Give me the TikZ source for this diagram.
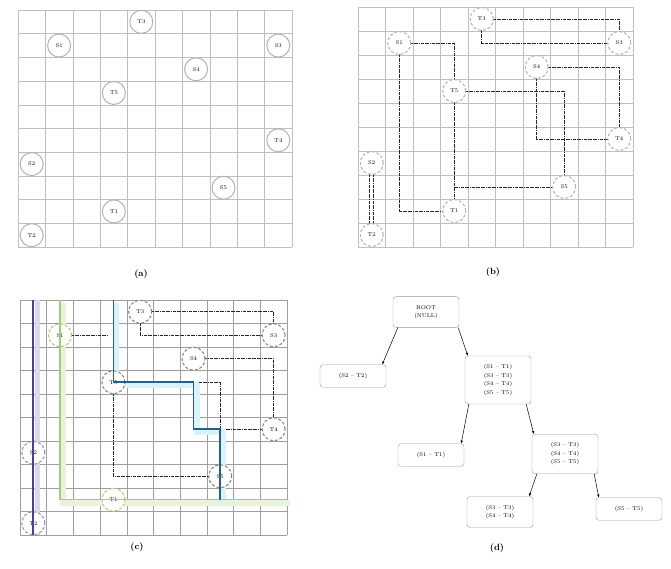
\documentclass[tikz,border=0pt]{standalone}
\usetikzlibrary{arrows.meta}
\definecolor{cutpurple}{RGB}{80,62,145}
\definecolor{cutgreen}{RGB}{160,205,120}
\definecolor{cutblue}{RGB}{40,95,135}
\colorlet{pinpurple}{cutpurple!60}
\tikzset{
  gridline/.style={gray!50, line width=0.5pt},
  pin/.style={circle, draw=gray!60, line width=1pt, fill=white, inner sep=0pt,
    minimum size=23pt, font=\fontsize{5.5}{6}\selectfont},
  route/.style={densely dashdotted, gray!30!black, line width=0.6pt},
  box/.style={draw=gray!80, rounded corners=3pt, align=center, minimum width=66pt,
    inner ysep=8.5pt, font=\fontsize{5.5}{8.5}\selectfont},
  link/.style={-{Latex[length=3pt,width=2.5pt]}, line width=0.5pt},
  panel/.style={font=\fontsize{9}{10}\selectfont\bfseries}
}
\begin{document}
\begin{tikzpicture}[x=1pt, y=-1pt]
  \useasboundingbox (0,0) rectangle (671,568);

  % (a) pins on the grid
  \begin{scope}[shift={(18pt,-10pt)}, x=27.4pt, y=-23.7pt]
    \foreach \i in {0,...,10} {
      \draw[gridline] (\i,0) -- (\i,10);
      \draw[gridline] (0,\i) -- (10,\i);
    }
    \foreach \n/\cx/\ry in {S1/1/1, T3/4/0, S3/9/1, S4/6/2, T5/3/3, T4/9/5,
                            S2/0/6, S5/7/7, T1/3/8, T2/0/9}
      \node[pin] (a-\n) at (\cx+0.5,\ry+0.5) {\n};
  \end{scope}

  % (b) candidate routes
  \begin{scope}[shift={(358pt,-7pt)}, x=27.5pt, y=-24pt]
    \foreach \i in {0,...,10} {
      \draw[gridline] (\i,0) -- (\i,10);
      \draw[gridline] (0,\i) -- (10,\i);
    }
    \foreach \n/\cx/\ry in {S1/1/1, T3/4/0, S3/9/1, S4/6/2, T5/3/3, T4/9/5,
                            S2/0/6, S5/7/7, T1/3/8, T2/0/9}
      \coordinate (b-\n) at (\cx+0.5,\ry+0.5);
    \draw[route] (b-T3) -| (b-S3);
    \draw[route] (b-T3) |- (b-S3);
    \draw[route] (b-S1) -| (b-T5);
    \draw[route] (b-T5) -- (b-T1);
    \draw[route] (b-S1) |- (b-T1);
    \draw[route] (b-S4) -| (b-T4);
    \draw[route] (b-S4) |- (b-T4);
    \draw[route] (b-T5) -| (b-S5);
    \draw[route] (b-T5) |- (b-S5);
    \draw[route] ([xshift=-2pt]b-S2) -- ([xshift=-2pt]b-T2);
    \draw[route] ([xshift=2pt]b-S2) -- ([xshift=2pt]b-T2);
    \foreach \n/\cx/\ry in {S1/1/1, T3/4/0, S3/9/1, S4/6/2, T5/3/3, T4/9/5,
                            S2/0/6, S5/7/7, T1/3/8, T2/0/9}
      \node[pin, densely dashed] (b-\n) at (\cx+0.5,\ry+0.5) {\n};
  \end{scope}

  % (c) cut lines
  \begin{scope}[shift={(20pt,-300pt)}, x=26.7pt, y=-23.5pt]
    \foreach \i in {0,...,10} {
      \draw[gridline, gray!75] (\i,0) -- (\i,10);
      \draw[gridline, gray!75] (0,\i) -- (10,\i);
    }
    % light bands beside the cuts
    \draw[cutpurple!20, line width=5pt, xshift=4pt] (0.5,0) -- (0.5,10);
    \draw[cutgreen!25, line width=6pt, xshift=3pt, yshift=-3pt] (1.5,0) -- (1.5,8.5) -- (10,8.5);
    \draw[cyan!15, line width=6pt, xshift=3pt, yshift=-3pt]
      (3.5,0) -- (3.5,3.5) -- (6.5,3.5) -- (6.5,5.5) -- (7.5,5.5) -- (7.5,8.5);
    \foreach \n/\cx/\ry in {S1/1/1, T3/4/0, S3/9/1, S4/6/2, T5/3/3, T4/9/5,
                            S2/0/6, S5/7/7, T1/3/8, T2/0/9}
      \coordinate (c-\n) at (\cx+0.5,\ry+0.5);
    \coordinate (c-e1) at (3.3,1.5);
    \coordinate (c-e2) at (6.7,3.5);
    \coordinate (c-e3) at (7.7,5.5);
    \draw[route] (c-T3) -| (c-S3);
    \draw[route] (c-T3) |- (c-S3);
    \draw[route] (c-S1) -- (c-e1);
    \draw[route] (c-T5) |- (c-S5);
    \draw[route] (c-e2) -| (c-S5);
    \draw[route] (c-S4) -| (c-T4);
    \draw[route] (c-T4) -- (c-e3);
    \draw[route] (c-S2) -- (c-T2);
    \foreach \n/\cx/\ry/\col in {S1/1/1/cutgreen, T3/4/0/gray, S3/9/1/gray,
                                 S4/6/2/gray, T5/3/3/gray, T4/9/5/gray,
                                 S2/0/6/pinpurple, S5/7/7/gray, T1/3/8/cutgreen,
                                 T2/0/9/pinpurple}
      \node[pin, densely dashed, draw=\col] (c-\n) at (\cx+0.5,\ry+0.5) {\n};
    \draw[cutpurple, line width=2pt] (0.5,0) -- (0.5,10);
    \draw[cutgreen, line width=1.3pt] (1.5,0) -- (1.5,8.5) -- (10,8.5);
    \draw[cutblue, line width=1.6pt]
      (3.5,0) -- (3.5,3.5) -- (6.5,3.5) -- (6.5,5.5) -- (7.5,5.5) -- (7.5,8.5);
  \end{scope}

  % (d) partition tree
  \node[box] (root) at (426,312) {ROOT\\(NULL)};
  \node[box] (n2) at (353,376) {(S2 -- T2)};
  \node[box] (n4) at (498,380) {(S1 -- T1)\\(S3 -- T3)\\(S4 -- T4)\\(S5 -- T5)};
  \node[box] (n1) at (431,455) {(S1 -- T1)};
  \node[box] (n3) at (565,454) {(S3 -- T3)\\(S4 -- T4)\\(S5 -- T5)};
  \node[box] (n34) at (500,512) {(S3 -- T3)\\(S4 -- T4)};
  \node[box] (n5) at (629,509) {(S5 -- T5)};

  \draw[link] ([xshift=5pt]root.south west) -- ([xshift=-4pt]n2.north east);
  \draw[link] ([xshift=-1pt]root.south east) -- ([xshift=3pt]n4.north west);
  \draw[link] ([xshift=4pt]n4.south west) -- ([xshift=-3pt]n1.north east);
  \draw[link] ([xshift=-5pt]n4.south east) -- ([xshift=2pt]n3.north west);
  \draw[link] ([xshift=5pt]n3.south west) -- ([xshift=-4pt]n34.north east);
  \draw[link] ([xshift=-4pt]n3.south east) -- ([xshift=3pt]n5.north west);

  \node[panel] (lab-a) at (141,274) {(a)};
  \node[panel] (lab-b) at (493,272) {(b)};
  \node[panel] (lab-c) at (137,547) {(c)};
  \node[panel] (lab-d) at (497,548) {(d)};
\end{tikzpicture}
\end{document}
